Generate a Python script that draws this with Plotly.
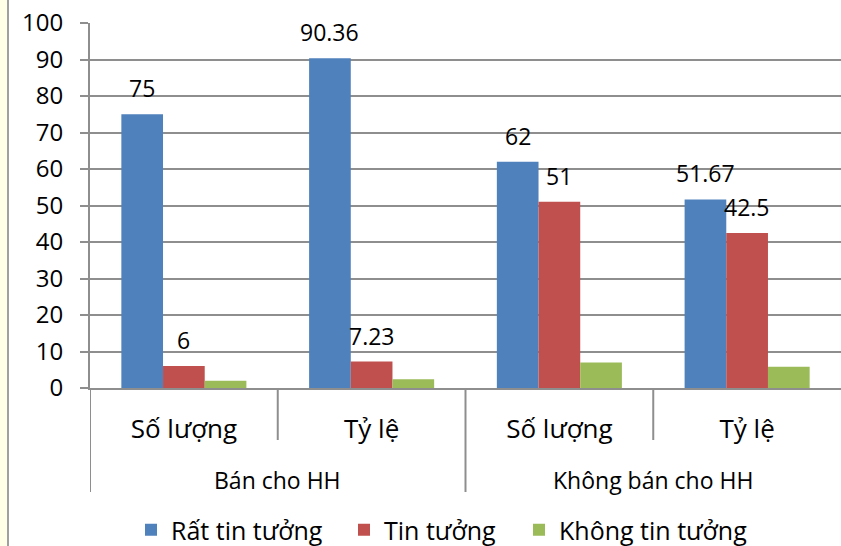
import plotly.graph_objects as go

# Survey data: level of trust by selling group
groups = ["Bán cho HH", "Không bán cho HH"]
measures = ["Số lượng", "Tỷ lệ"]
series_names = ["Rất tin tưởng", "Tin tưởng", "Không tin tưởng"]
rat_tin_tuong = [75, 90.36, 62, 51.67]
tin_tuong = [6, 7.23, 51, 42.5]
khong_tin_tuong = [2, 2.41, 7, 5.83]
labelled = [True, True, False]  # which series show value labels

colors = ["#4F81BD", "#C0504D", "#9BBB59"]
FONT = "Open Sans"
GRID = "#8E8E8E"

W, H = 841, 546
ML, MR, MT, MB = 90, 0, 23, 158
PW, PH = W - ML - MR, H - MT - MB
BARGAP = 0.334


def px_x(p):
    """pixel column -> paper x"""
    return (p - ML) / PW


def px_y(p):
    """pixel row -> paper y"""
    return (MT + PH - p) / PH


cat_labels = [m for g in groups for m in measures]
xpos = list(range(len(cat_labels)))
all_series = [rat_tin_tuong, tin_tuong, khong_tin_tuong]
legend_ids = ["legend", "legend2", "legend3"]
legend_left = [131, 344, 519]

fig = go.Figure()
for name, vals, col, lg in zip(series_names, all_series, colors, legend_ids):
    fig.add_trace(go.Bar(x=xpos, y=vals, name=name, marker_color=col,
                         marker_line_width=0, legend=lg))

# value labels above bars
n = len(all_series)
bw = (1 - BARGAP) / n
annotations = []
for i, (vals, show) in enumerate(zip(all_series, labelled)):
    if not show:
        continue
    off = -(1 - BARGAP) / 2 + bw * (i + 0.5)
    for xi, v in zip(xpos, vals):
        annotations.append(dict(x=xi + off, y=v, xref="x", yref="y",
                                text=f"{v:g}", showarrow=False,
                                yanchor="middle", yshift=26,
                                font=dict(family=FONT, size=23, color="#000")))

# group labels under the category labels
per_group = len(measures)
for gi, g in enumerate(groups):
    cx = gi * per_group + (per_group - 1) / 2
    annotations.append(dict(x=cx, y=px_y(480), xref="x", yref="paper",
                            text=g, showarrow=False, yanchor="middle",
                            font=dict(family=FONT, size=23, color="#000")))

shapes = []
# dividers between categories (short) and between groups (long)
for k in range(len(cat_labels)):
    xb = k - 0.5
    long_div = (k % per_group == 0)
    shapes.append(dict(type="line", xref="x", yref="paper", x0=xb, x1=xb,
                       y0=0, y1=px_y(492 if long_div else 440),
                       line=dict(color=GRID, width=2)))

# pale side strip with its border on the left edge
shapes.append(dict(type="rect", xref="paper", yref="paper",
                   x0=px_x(0), x1=px_x(7), y0=px_y(H), y1=px_y(0),
                   fillcolor="#FFFFE8", line_width=0, layer="below"))
shapes.append(dict(type="line", xref="paper", yref="paper",
                   x0=px_x(8), x1=px_x(8), y0=px_y(H), y1=px_y(0),
                   line=dict(color="#A0A0A0", width=2)))

legend_style = dict(orientation="h", xanchor="left", y=px_y(530),
                    yanchor="middle", bgcolor="rgba(0,0,0,0)",
                    font=dict(family=FONT, size=25, color="#000"),
                    itemclick=False, itemdoubleclick=False)

fig.update_layout(
    width=W, height=H,
    margin=dict(l=ML, r=MR, t=MT, b=MB, pad=0, autoexpand=False),
    paper_bgcolor="white", plot_bgcolor="white",
    barmode="group", bargap=BARGAP, bargroupgap=0,
    font=dict(family=FONT, color="#000"),
    showlegend=True,
    legend=dict(legend_style, x=px_x(legend_left[0])),
    legend2=dict(legend_style, x=px_x(legend_left[1])),
    legend3=dict(legend_style, x=px_x(legend_left[2])),
    annotations=annotations,
    shapes=shapes,
    xaxis=dict(range=[-0.5, len(cat_labels) - 0.5], tickvals=xpos,
               ticktext=cat_labels, showgrid=False, ticks="",
               showline=True, linecolor=GRID, linewidth=2,
               tickfont=dict(family=FONT, size=26, color="#000"),
               ticklabelstandoff=17, fixedrange=True, automargin=False),
    yaxis=dict(range=[0, 100], dtick=10, showgrid=True, gridcolor=GRID,
               gridwidth=1.5, showline=True, linecolor=GRID, linewidth=2,
               ticks="outside", ticklen=8, tickcolor=GRID, tickwidth=2,
               tickfont=dict(family=FONT, size=24, color="#000"),
               ticklabelstandoff=12, zeroline=False, fixedrange=True,
               automargin=False),
)

fig.write_html("out.html")
